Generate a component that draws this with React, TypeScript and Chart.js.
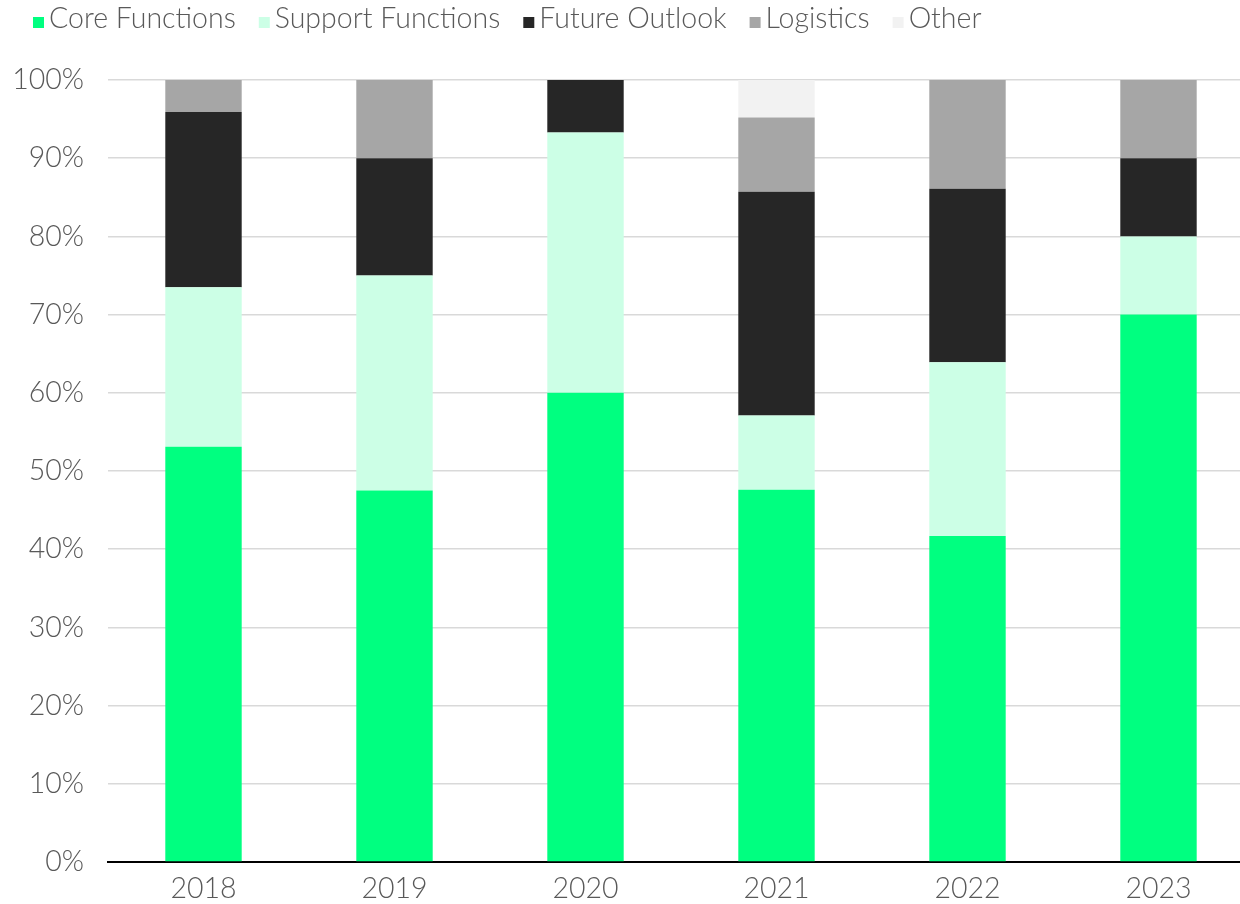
import React, { useEffect, useRef } from "react";
import { Chart, registerables } from "chart.js";

Chart.register(...registerables);

const years = ["2018", "2019", "2020", "2021", "2022", "2023"];
const seriesNames = ["Core Functions", "Support Functions", "Future Outlook", "Logistics", "Other"];
const coreFunctions = [53.1, 47.5, 60.0, 47.6, 41.7, 70.0];
const supportFunctions = [20.4, 27.5, 33.3, 9.5, 22.2, 10.0];
const futureOutlook = [22.4, 15.0, 6.7, 28.6, 22.2, 10.0];
const logistics = [4.1, 10.0, 0, 9.5, 13.9, 10.0];
const other = [0, 0, 0, 4.8, 0, 0];
const seriesColors = ["#00FF80", "#CCFFE6", "#262626", "#A6A6A6", "#F2F2F2"];

const FONT = "Lato, 'Noto Sans', sans-serif";
const TEXT_COLOR = "#595959";
const FONT_SIZE = 28.5;

const customLegend = {
  id: "customLegend",
  afterDraw(chart: any) {
    const ctx = chart.ctx;
    ctx.save();
    ctx.font = `300 ${FONT_SIZE}px ${FONT}`;
    ctx.textBaseline = "alphabetic";
    ctx.textAlign = "left";
    let x = 33;
    const baseline = 28;
    chart.data.datasets.forEach((ds: any) => {
      ctx.fillStyle = ds.backgroundColor;
      ctx.fillRect(x, 17, 11, 11);
      const tx = x + 16;
      ctx.fillStyle = TEXT_COLOR;
      ctx.fillText(ds.label, tx, baseline);
      const w = ctx.measureText(ds.label).width;
      x = tx + w + 23;
    });
    ctx.restore();
  },
};

export default function App() {
  const canvasRef = useRef<HTMLCanvasElement | null>(null);

  useEffect(() => {
    if (!canvasRef.current) return;
    const values = [coreFunctions, supportFunctions, futureOutlook, logistics, other];
    const chart = new Chart(canvasRef.current, {
      type: "bar",
      data: {
        labels: years,
        datasets: seriesNames.map((name, i) => ({
          label: name,
          data: values[i],
          backgroundColor: seriesColors[i],
          borderWidth: 0,
          barPercentage: 0.4,
          categoryPercentage: 1,
        })),
      },
      options: {
        animation: false,
        responsive: true,
        maintainAspectRatio: false,
        layout: { padding: { top: 80, left: 0, right: 0, bottom: 0 } },
        plugins: {
          legend: { display: false },
          tooltip: { enabled: false },
        },
        scales: {
          x: {
            stacked: true,
            grid: { display: false, drawTicks: false },
            border: { display: true, color: "#000000", width: 2 },
            ticks: {
              color: TEXT_COLOR,
              font: { family: FONT, size: FONT_SIZE, weight: "300" },
              padding: 10,
            },
            afterFit: (scale: any) => {
              scale.height = 42;
            },
          },
          y: {
            stacked: true,
            min: 0,
            max: 100,
            grid: { color: "#D9D9D9", lineWidth: 1.5, drawTicks: false },
            border: { display: false },
            ticks: {
              stepSize: 10,
              color: TEXT_COLOR,
              font: { family: FONT, size: FONT_SIZE, weight: "300" },
              padding: 24,
              callback: (v: any) => `${v}%`,
            },
            afterFit: (scale: any) => {
              scale.width = 108;
            },
          },
        },
      },
      plugins: [customLegend],
    });
    return () => chart.destroy();
  }, []);

  return (
    <div style={{ position: "fixed", left: 0, top: 0, width: 1240, height: 904, background: "#fff", overflow: "hidden" }}>
      <div style={{ position: "absolute", left: 0, top: 0, width: 1254, height: 904 }}>
        <canvas ref={canvasRef} />
      </div>
    </div>
  );
}
